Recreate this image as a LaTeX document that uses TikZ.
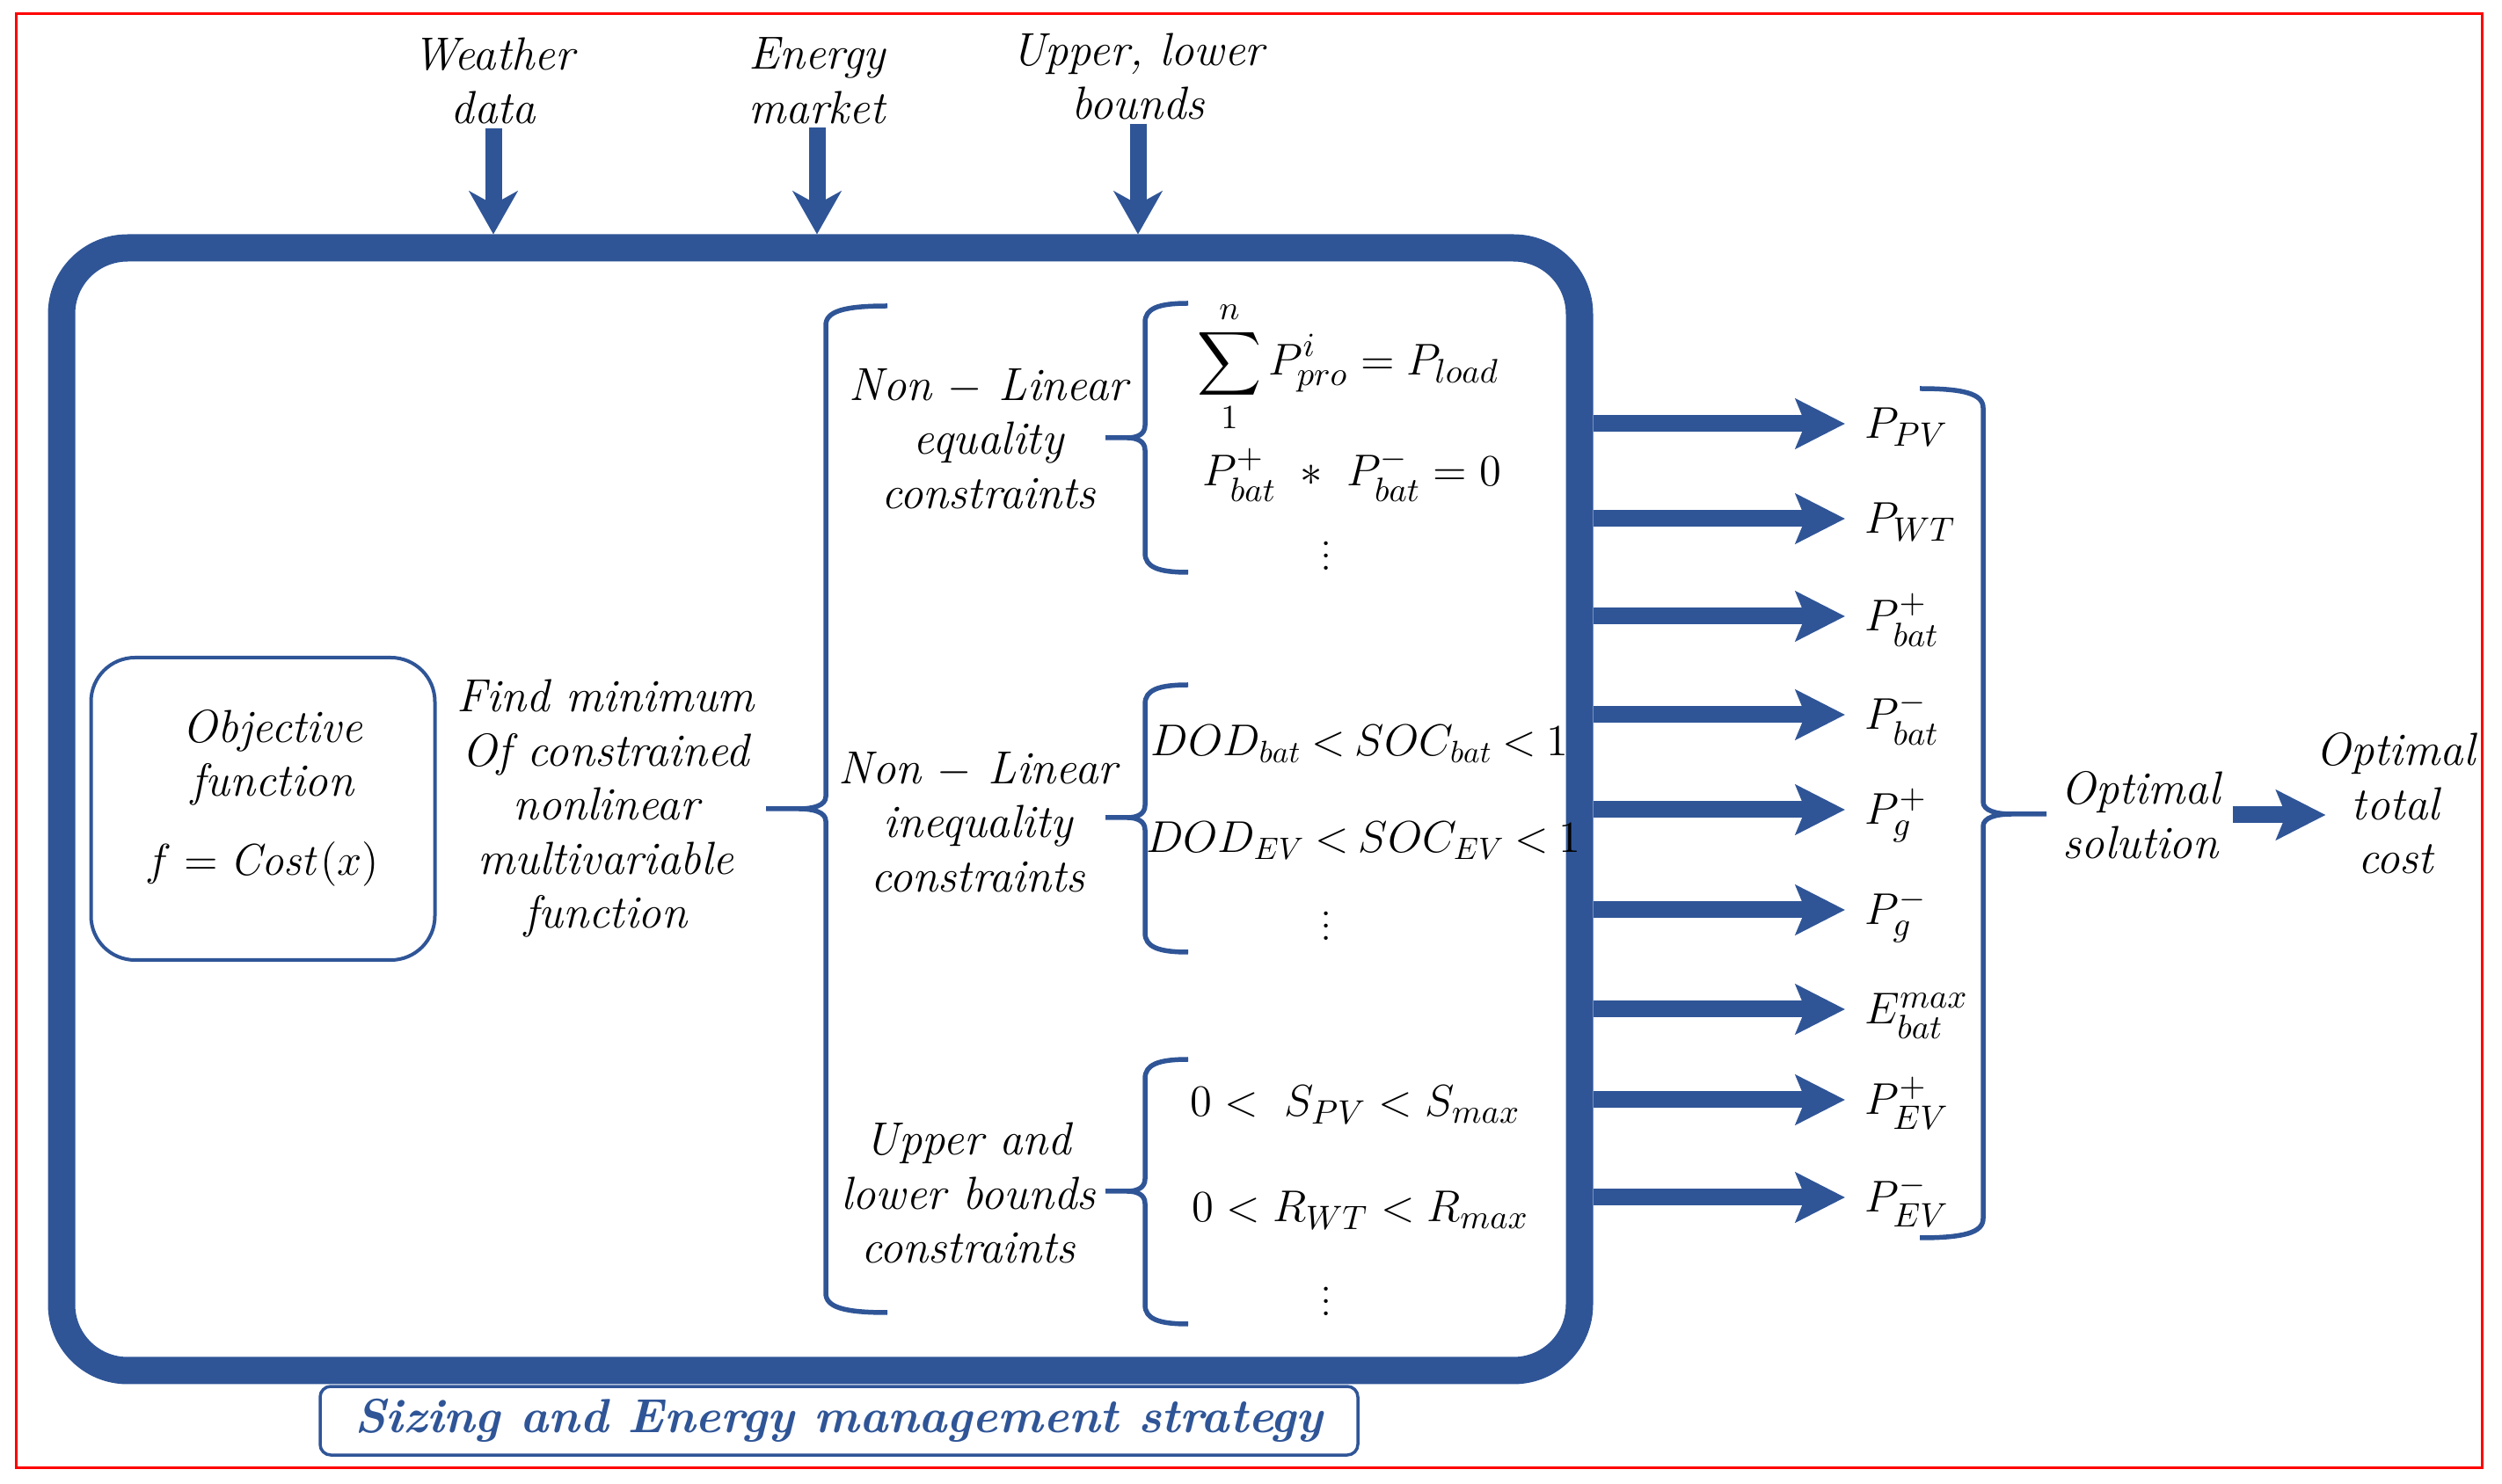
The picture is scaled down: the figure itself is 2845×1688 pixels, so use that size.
\documentclass[tikz,border=0pt]{standalone}
\usepackage{amsmath}
\usepackage{tikz}
\usetikzlibrary{arrows.meta}

\definecolor{emsblue}{RGB}{47,85,151}

% bracket with a point: vertical x, top y, bottom y, tip x, tip y, arm x
\newcommand{\sidebrace}[6]{%
  \draw[brace] (#6,#2) .. controls ({#1+0.3*(#6-#1)},#2) and (#1,{#2+6}) .. (#1,{#2+22})
    -- (#1,{#5-14}) .. controls (#1,{#5-4}) and ({#1+0.2*(#4-#1)},#5) .. ({#1+0.45*(#4-#1)},#5) -- (#4,#5)
    ({#1+0.45*(#4-#1)},#5) .. controls ({#1+0.2*(#4-#1)},#5) and (#1,{#5+4}) .. (#1,{#5+14})
    -- (#1,{#3-22}) .. controls (#1,{#3-6}) and ({#1+0.3*(#6-#1)},#3) .. (#6,#3);}

\begin{document}
\begin{tikzpicture}[x=0.1mm, y=-0.1mm,
  txt/.style={font=\fontsize{15}{17.5}\selectfont\itshape, align=center, inner sep=1pt},
  mth/.style={font=\fontsize{15}{17.5}\selectfont, inner sep=0pt},
  brace/.style={emsblue, line width=0.55mm},
  inarrow/.style={emsblue, line width=1.9mm, -{Stealth[length=4.9mm, width=5.5mm, inset=1.5mm]}},
  outarrow/.style={emsblue, line width=1.9mm, -{Stealth[length=5.6mm, width=5.6mm, inset=1.1mm]}}]
\useasboundingbox (0,0) rectangle (2845,1688);

% Frame
\draw[red, line width=0.3mm] (18,16) rectangle (2822,1669);

% Main block
\node[draw=emsblue, line width=3.1mm, rounded corners=7.5mm, minimum width=172.6mm, minimum height=127.7mm] (ems) at (933,920.5) {};
\node[draw=emsblue, line width=0.35mm, rounded corners=1.2mm, minimum width=118mm, minimum height=7.8mm,
  text=emsblue, font=\fontsize{15.5}{18}\selectfont\bfseries\itshape] (title) at (954,1616) {Sizing and Energy management strategy};

% Inputs
\node[txt] (weather) at (561,92) {Weather\\data};
\node[txt] (market) at (929,92) {Energy\\market};
\node[txt] (bounds) at (1294,87) {Upper, lower\\bounds};
\draw[inarrow] (weather) -- (weather |- ems.north);
\draw[inarrow] (market) -- (market |- ems.north);
\draw[inarrow] (bounds) -- (bounds |- ems.north);

% Objective
\node[draw=emsblue, line width=0.4mm, rounded corners=5mm, minimum width=39.1mm, minimum height=34.4mm] (obj) at (299,920) {};
\node[txt] (objtxt) at (310,862) {Objective\\function};
\node[mth] (cost) at (298,983) {$f = \mathit{Cost}(x)$};
\node[txt] (find) at (689,920) {Find minimum\\Of constrained\\nonlinear\\multivariable\\function};
\sidebrace{939}{348}{1493}{871}{920}{1009}

% Equality constraints
\node[txt] (eqlbl) at (1124,499) {Non $-$ Linear\\equality\\constraints};
\sidebrace{1302}{345}{651}{1257}{498}{1351}
\node[mth] (eq1) at (1533,417) {$\displaystyle\sum_{1}^{n} P_{pro}^{i} = P_{load}$};
\node[mth] (eq2) at (1537,540) {$P_{bat}^{+}\ \ast\ P_{bat}^{-} = 0$};
\node[mth] (eq3) at (1508,622) {$\vdots$};

% Inequality constraints
\node[txt] (ineqlbl) at (1112,935) {Non $-$ Linear\\inequality\\constraints};
\sidebrace{1302}{779}{1083}{1257}{930}{1351}
\node[mth, font=\fontsize{14}{17}\selectfont] (ineq1) at (1546,846) {\thickmuskip=4mu$DOD_{bat} < SOC_{bat} < 1$};
\node[mth, font=\fontsize{14}{17}\selectfont] (ineq2) at (1550,956) {\thickmuskip=4mu$DOD_{EV} < SOC_{EV} < 1$};
\node[mth] (ineq3) at (1508,1043) {$\vdots$};

% Bounds
\node[txt] (bndlbl) at (1101,1357) {Upper and\\lower bounds\\constraints};
\sidebrace{1302}{1205}{1506}{1257}{1355}{1351}
\node[mth] (bnd1) at (1541,1257) {$0 <\ S_{PV} < S_{max}$};
\node[mth] (bnd2) at (1547,1377) {$0 < R_{WT} < R_{max}$};
\node[mth] (bnd3) at (1508,1470) {$\vdots$};

% Outputs
\node[mth, anchor=base west] (pv) at (2120,499) {$P_{PV}$};
\node[mth, anchor=base west] (wt) at (2120,607) {$P_{WT}$};
\node[mth, anchor=base west] (batc) at (2120,718) {$P_{bat}^{+}$};
\node[mth, anchor=base west] (batd) at (2120,830) {$P_{bat}^{-}$};
\node[mth, anchor=base west] (gimp) at (2120,938) {$P_{g}^{+}$};
\node[mth, anchor=base west] (gexp) at (2120,1052) {$P_{g}^{-}$};
\node[mth, anchor=base west] (emax) at (2120,1165) {$E_{bat}^{max}$};
\node[mth, anchor=base west] (evc) at (2120,1268) {$P_{EV}^{+}$};
\node[mth, anchor=base west] (evd) at (2120,1379) {$P_{EV}^{-}$};

\coordinate (a1) at (1812,482);
\coordinate (a2) at (1812,590);
\coordinate (a3) at (1812,701);
\coordinate (a4) at (1812,813);
\coordinate (a5) at (1812,921);
\coordinate (a6) at (1812,1035);
\coordinate (a7) at (1812,1148);
\coordinate (a8) at (1812,1251);
\coordinate (a9) at (1812,1362);
\draw[outarrow, shorten >=2.2mm] (a1) -- (a1 -| pv.west);
\draw[outarrow, shorten >=2.2mm] (a2) -- (a2 -| wt.west);
\draw[outarrow, shorten >=2.2mm] (a3) -- (a3 -| batc.west);
\draw[outarrow, shorten >=2.2mm] (a4) -- (a4 -| batd.west);
\draw[outarrow, shorten >=2.2mm] (a5) -- (a5 -| gimp.west);
\draw[outarrow, shorten >=2.2mm] (a6) -- (a6 -| gexp.west);
\draw[outarrow, shorten >=2.2mm] (a7) -- (a7 -| emax.west);
\draw[outarrow, shorten >=2.2mm] (a8) -- (a8 -| evc.west);
\draw[outarrow, shorten >=2.2mm] (a9) -- (a9 -| evd.west);

% Result
\sidebrace{2255}{442}{1408}{2327}{926}{2183}
\node[txt] (optsol) at (2434,927) {Optimal\\solution};
\node[txt] (optcost) at (2724,914) {Optimal\\total\\cost};
\draw[outarrow] ([xshift=1mm]optsol.east) -- ([xshift=1.5mm]optsol.east -| optcost.west);
\end{tikzpicture}
\end{document}
